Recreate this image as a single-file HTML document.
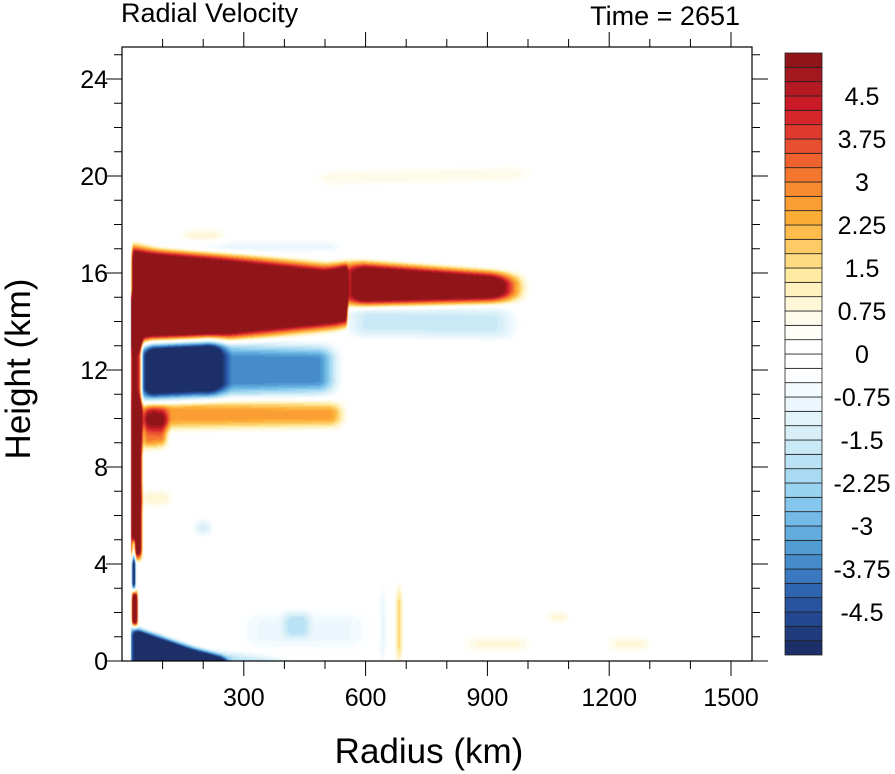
<!DOCTYPE html>
<html><head><meta charset="utf-8"><style>
html,body{margin:0;padding:0;background:#fff;}
#wrap{position:relative;width:895px;height:774px;overflow:hidden;font-family:"Liberation Sans",sans-serif;}
canvas{position:absolute;left:122px;top:47px;}
svg{position:absolute;left:0;top:0;}
</style></head><body>
<div id="wrap">
<canvas id="cv" width="630" height="614"></canvas>
<svg id="sv" width="895" height="774"></svg>
</div>
<script>
// ---- data ----
const xTicks = [300, 600, 900, 1200, 1500];
const yTicks = [0, 4, 8, 12, 16, 20, 24];
const cbLabels = ["4.5","3.75","3","2.25","1.5","0.75","0","-0.75","-1.5","-2.25","-3","-3.75","-4.5"];
const levelMin = -5, levelStep = 0.25;
const levelColors = ["#1c2f68","#1f3b7c","#234790","#28549f","#2f64b0","#3a78bf","#468bca","#529cd4","#62acde","#73bae6","#85c7ec","#98d3f0","#a8dbf2","#b9e2f4","#c9e9f6","#d8eff8","#e2f3fa","#ebf7fc","#f4fbfe","#fdfeff","#ffffff",
"#ffffff","#fffef8","#fffbeb","#fff7d8","#fff2bf","#feeaa0","#fedb80","#fdcb65","#fdbc4c","#fcad36","#fa9d33","#f88a30","#f5762f","#ef622f","#e84f30","#e03a2e","#d6262a","#c81b27","#b51a22","#a3181f","#8f1519"];
// field features (radius km, height km, velocity m/s)
const fR0   = [25,  550, 22,  45,  230, 50,  50,  25,  200, 25,  25,  560,  60,  480, 150, 180, 50,  850, 1050, 635, 675, 300, 1200, 400];
const fR1   = [555, 960, 48,  240, 520, 540, 110, 260, 420, 38,  33,  960,  540, 1000,250, 220, 120, 1000,1100, 650, 690, 600, 1300, 460];
const fZLo0 = [13.0,14.7,4.3, 10.8,11.0,9.6, 8.8, -1,  -1,  1.5, 3.0, 13.4, 16.8,19.6,17.2,5.2, 6.4, 0.4, 1.6,  0,   0,   0.5, 0.4,  1.0];
const fZLo1 = [13.9,14.9,4.3, 11.0,11.1,9.7, 8.9, -1,  -1,  1.5, 3.0, 13.3, 16.9,19.8,17.2,5.2, 6.4, 0.4, 1.6,  0,   0,   0.5, 0.4,  1.0];
const fZHi0 = [17.0,16.4,15,  13.3,13.0,10.7,10.4,1.35,0.5, 2.8, 5.0, 14.6, 17.3,20.2,17.8,5.8, 7.0, 1.0, 2.0,  3.0, 3.0, 2.0, 1.0,  2.0];
const fZHi1 = [16.1,15.9,15,  13.2,12.9,10.6,10.3,0.0, 0.0, 2.8, 5.0, 14.5, 17.3,20.4,17.8,5.8, 7.0, 1.0, 2.0,  3.0, 3.0, 2.0, 1.0,  2.0];
const fVal  = [7.5, 7.0, 7,   -6.5,-3.6,2.6, 3.2, -8,  -1.8,7,   -6,  -1.6, -1.0,0.7, 0.9, -1.4,1.0, 0.8, 1.0,  -1.0,1.8, -0.8,0.8, -1.2];
const fSoftZ= [1.0, 0.8, 0.8, 1.0, 1.0, 0.8, 0.8, 0.6, 0.5, 0.6, 0.6, 0.8,  0.6, 0.6, 0.6, 0.6, 0.6, 0.5, 0.5,  1.5, 1.5, 1.0, 0.5,  0.6];
const fSoftR= [10,  120, 14,  70,  80,  60,  30,  40,  100, 8,   8,   100,  80,  100, 50,  40,  40,  60,  40,   20,  20,  100, 50,   40];

// ---- axes ----
const L=122, R=752, T=47, B=661;
const xs = r => L + r*0.406;
const ys = z => B - z*24.25;
function ss(a,b,x){ if(b===a) return x>=a?1:0; let t=Math.min(1,Math.max(0,(x-a)/(b-a))); return t*t*(3-2*t); }
function field(r,z){
  let v=0;
  for(let i=0;i<fVal.length;i++){
    const sr=fSoftR[i];
    if(r<fR0[i]-sr||r>fR1[i]+sr) continue;
    const t=Math.min(1,Math.max(0,(r-fR0[i])/(fR1[i]-fR0[i])));
    const lo=fZLo0[i]+(fZLo1[i]-fZLo0[i])*t, hi=fZHi0[i]+(fZHi1[i]-fZHi0[i])*t;
    const s=fSoftZ[i];
    const wz=ss(lo-s/2,lo+s/2,z)*(1-ss(hi-s/2,hi+s/2,z));
    const wr=ss(fR0[i]-sr/2,fR0[i]+sr/2,r)*(1-ss(fR1[i]-sr/2,fR1[i]+sr/2,r));
    v+=fVal[i]*wz*wr;
  }
  return v;
}
function hex(c){return [parseInt(c.substr(1,2),16),parseInt(c.substr(3,2),16),parseInt(c.substr(5,2),16)];}
const rgb=levelColors.map(hex);
const cv=document.getElementById('cv'), ctx=cv.getContext('2d');
const img=ctx.createImageData(630,614);
for(let py=0;py<614;py++){
  const z=(B-(T+py+0.5))/24.25;
  for(let px=0;px<630;px++){
    const r=(px+0.5)/0.406;
    const v=(r<22)?0:field(r,z);
    let idx=Math.floor((v-levelMin)/levelStep)+1;
    idx=Math.max(0,Math.min(41,idx));
    const c=rgb[idx], o=(py*630+px)*4;
    img.data[o]=c[0];img.data[o+1]=c[1];img.data[o+2]=c[2];img.data[o+3]=255;
  }
}
ctx.putImageData(img,0,0);

const NS="http://www.w3.org/2000/svg", sv=document.getElementById('sv');
function el(tag,attrs,txt){const e=document.createElementNS(NS,tag);for(const k in attrs)e.setAttribute(k,attrs[k]);if(txt!==undefined)e.textContent=txt;sv.appendChild(e);return e;}
let fr=el('rect',{x:L,y:T,width:R-L,height:B-T,fill:'none',stroke:'#000','stroke-width':1.2});


for(let r=100;r<=1500;r+=100){
  const maj=(r%300===0), len=maj?15:8, x=xs(r);
  let a=el('line',{x1:x,x2:x,y1:B,y2:B+len,stroke:'#000','stroke-width':1});
  
  
  let b=el('line',{x1:x,x2:x,y1:T,y2:T-len,stroke:'#000','stroke-width':1});
  
  
}
for(let z=0;z<=25;z+=1){
  const maj=(z%4===0), len=maj?16:8, y=ys(z);
  let a=el('line',{x1:L,x2:L-len,y1:y,y2:y,stroke:'#000','stroke-width':1});
  
  
  let b=el('line',{x1:R,x2:R+len,y1:y,y2:y,stroke:'#000','stroke-width':1});
  
  
}
xTicks.forEach(v=>{
  let t=el('text',{x:xs(v),y:706,'text-anchor':'middle','font-size':25},String(v));
  
  
});
yTicks.forEach(v=>{
  let t=el('text',{x:108,y:ys(v)+9,'text-anchor':'end','font-size':25},String(v));
  
  
});
let xt=el('text',{x:429,y:763,'text-anchor':'middle','font-size':35},'Radius (km)');


let yt=el('text',{x:0,y:0,'text-anchor':'middle','font-size':35,transform:'translate(30,369) rotate(-90)'},'Height (km)');


let t1=el('text',{x:121,y:22,'font-size':27},'Radial Velocity');


let t2=el('text',{x:740,y:25,'text-anchor':'end','font-size':27},'Time = 2651');


// colorbar
const cbX=785, cbW=37, cbTop=53, cbBot=655, bh=(cbBot-cbTop)/levelColors.length;
for(let i=0;i<levelColors.length;i++){
  const y=cbBot-(i+1)*bh;
  let r=el('rect',{x:cbX,y:y,width:cbW,height:bh,fill:levelColors[i],stroke:'#222','stroke-width':0.8});
  
  
}
cbLabels.forEach((s,i)=>{
  const y=cbTop+(3+3*i)*bh;
  let t=el('text',{x:862,y:y+9,'text-anchor':'middle','font-size':25},s);
  
  
});
</script>
</body></html>
